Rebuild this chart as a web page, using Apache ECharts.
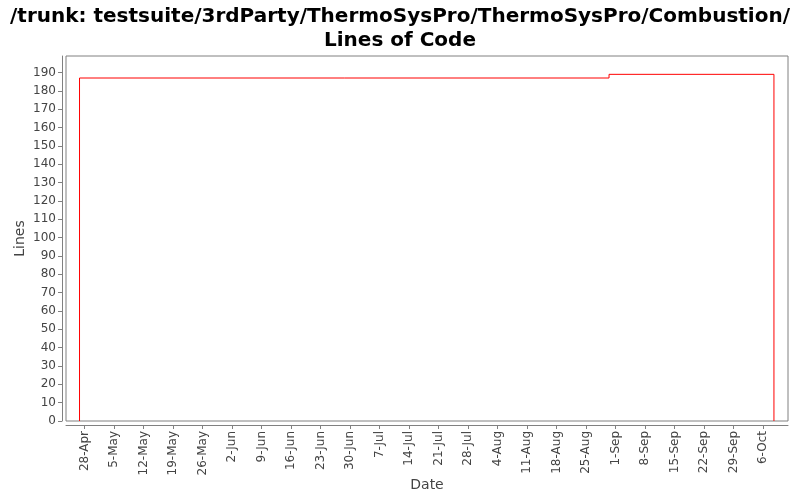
<!DOCTYPE html>
<html>
<head>
<meta charset="utf-8">
<script src="https://cdn.jsdelivr.net/npm/echarts@6/dist/echarts.min.js"></script>
<style>html,body{margin:0;padding:0;background:#fff}#c{width:800px;height:500px}</style>
</head>
<body>
<div id="c"></div>
<script>
// Data
const titleText = '/trunk: testsuite/3rdParty/ThermoSysPro/ThermoSysPro/Combustion/\nLines of Code';
const tickLabels = ['28-Apr','5-May','12-May','19-May','26-May','2-Jun','9-Jun','16-Jun','23-Jun','30-Jun','7-Jul','14-Jul','21-Jul','28-Jul','4-Aug','11-Aug','18-Aug','25-Aug','1-Sep','8-Sep','15-Sep','22-Sep','29-Sep','6-Oct'];
const baseDate = '2010-04-28T00:00';
const changeDates = ['2010-04-26T19:00', '2010-08-30T10:00', '2010-10-08T13:00'];
const lineValues = [187, 189];
const xRange = ['2010-04-23T14:00', '2010-10-11T21:00'];
const yTicks = [0,10,20,30,40,50,60,70,80,90,100,110,120,130,140,150,160,170,180,190];

const DAY = 86400000;
const toDay = d => (Date.parse(d + 'Z') - Date.parse(baseDate + 'Z')) / DAY;
const xs = changeDates.map(toDay);
const seriesData = [
  [xs[0], 0], [xs[0], lineValues[0]],
  [xs[1], lineValues[0]], [xs[1], lineValues[1]],
  [xs[2], lineValues[1]], [xs[2], 0]
];
const xTickVals = tickLabels.map((_, i) => i * 7);

const chart = echarts.init(document.getElementById('c'), null, {renderer: 'canvas'});
chart.setOption({
  animation: false,
  title: {
    text: titleText,
    left: 'center',
    top: 0,
    textStyle: {fontFamily: 'DejaVu Sans', fontSize: 20, fontWeight: 'bold', color: '#000', lineHeight: 24}
  },
  grid: {left: 66, top: 56, right: 12, bottom: 79, outerBoundsMode: 'none', containLabel: false, show: true, borderColor: '#808080', borderWidth: 1, backgroundColor: '#fff'},
  xAxis: {
    type: 'value',
    min: toDay(xRange[0]),
    max: toDay(xRange[1]),
    offset: 4,
    name: 'Date',
    nameLocation: 'middle',
    nameGap: 53,
    nameMoveOverlap: false,
    nameTextStyle: {fontFamily: 'DejaVu Sans', fontSize: 14, color: '#444'},
    axisLine: {show: true, onZero: false, lineStyle: {color: '#808080', width: 1}},
    axisTick: {show: true, length: 4, inside: false, customValues: xTickVals, lineStyle: {color: '#808080'}},
    axisLabel: {
      customValues: xTickVals,
      rotate: 90,
      margin: 6,
      fontFamily: 'DejaVu Sans', fontSize: 12, color: '#444',
      formatter: v => tickLabels[Math.round(v / 7)]
    },
    splitLine: {show: false}
  },
  yAxis: {
    type: 'value',
    min: 0,
    max: 199,
    offset: 4,
    name: 'Lines',
    nameLocation: 'middle',
    nameGap: 35,
    nameMoveOverlap: false,
    nameRotate: 90,
    nameTextStyle: {fontFamily: 'DejaVu Sans', fontSize: 14, color: '#444'},
    axisLine: {show: true, onZero: false, lineStyle: {color: '#808080', width: 1}},
    axisTick: {show: true, length: 4, customValues: yTicks, lineStyle: {color: '#808080'}},
    axisLabel: {customValues: yTicks, margin: 6, fontFamily: 'DejaVu Sans', fontSize: 12, color: '#444'},
    splitLine: {show: false}
  },
  series: [{
    type: 'line',
    data: seriesData,
    symbol: 'none',
    lineStyle: {color: '#ff0000', width: 1},
    silent: true
  }]
});
</script>
</body>
</html>
